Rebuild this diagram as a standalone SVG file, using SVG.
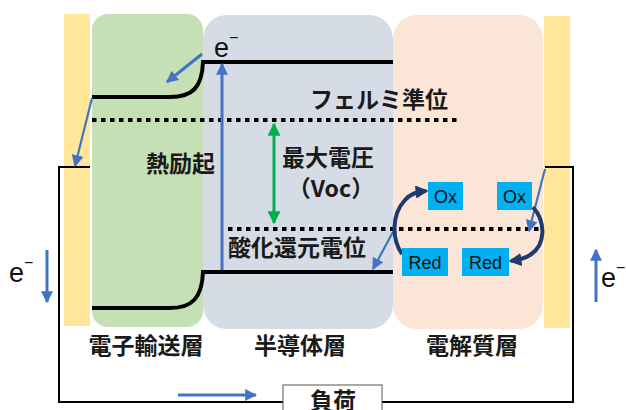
<svg xmlns="http://www.w3.org/2000/svg" width="626" height="410" viewBox="0 0 626 410">
<defs>
<style>
.jp{font-family:"Noto Sans CJK JP","Noto Sans",sans-serif;font-size:23px;font-weight:bold;fill:#1a1a1a}
.lat{font-family:"Liberation Sans",Arial,sans-serif;fill:#111}
.box{fill:#00B0F0}
.bt{font-family:"Liberation Sans",Arial,sans-serif;font-size:18px;fill:#111;text-anchor:middle}
.band{fill:none;stroke:#000;stroke-width:4}
.dot{fill:none;stroke:#000;stroke-width:4;stroke-dasharray:4.5 4.5}
.wire{fill:none;stroke:#000;stroke-width:2}
.blue{fill:none;stroke:#4472C4;stroke-width:3}
.bthin{fill:none;stroke:#4472C4;stroke-width:2.2}
.navy{fill:none;stroke:#1F3A6E;stroke-width:4}
</style>
<marker id="ab" viewBox="0 0 10 10" refX="9" refY="5" markerWidth="12" markerHeight="12" markerUnits="userSpaceOnUse" orient="auto"><path d="M0,0 L10,5 L0,10 Z" fill="#4472C4"/></marker>
<marker id="ag" viewBox="0 0 10 10" refX="9" refY="5" markerWidth="14" markerHeight="13" markerUnits="userSpaceOnUse" orient="auto-start-reverse"><path d="M0,0 L10,5 L0,10 Z" fill="#00B050"/></marker>
<marker id="an" viewBox="0 0 10 10" refX="8" refY="5" markerWidth="13" markerHeight="13" markerUnits="userSpaceOnUse" orient="auto"><path d="M0,0 L10,5 L0,10 Z" fill="#1F3A6E"/></marker>
</defs>

<g id="electrode-left"><rect x="64" y="14" width="26" height="312" fill="#FFE699"/></g>
<g id="etl"><rect x="92" y="14" width="111" height="313" rx="16" fill="#C5E0B4"/><text class="jp" x="146" y="354" text-anchor="middle">電子輸送層</text></g>
<g id="semiconductor"><rect x="203" y="15" width="190" height="314" rx="24" fill="#D6DCE5"/><text class="jp" x="300" y="354" text-anchor="middle">半導体層</text></g>
<g id="electrolyte"><rect x="393" y="15" width="150" height="314" rx="24" fill="#FBE5D6"/><text class="jp" x="472" y="354" text-anchor="middle">電解質層</text></g>
<g id="electrode-right"><rect x="544" y="16" width="26" height="312" fill="#FFE699"/></g>

<g id="connectors">
<path class="wire" d="M90,167 H59 V402 H283 M382,402 H573 V167 H545"/>
<path class="band" d="M92,97 H170 C192,97 202,88 203,62 H393"/>
<path class="band" d="M92,308 H170 C192,308 202,298 203,272 H393"/>
<path class="dot" d="M92,120 H458"/>
<path class="dot" d="M228,229 H543"/>
<path class="blue" d="M222,270 V64" marker-end="url(#ab)"/>
<path class="blue" d="M202,54 L167,82" marker-end="url(#ab)"/>
<path class="bthin" d="M92,98 L75,166" marker-end="url(#ab)"/>
<path class="bthin" d="M394,230 L373,269" marker-end="url(#ab)"/>
<path class="bthin" d="M545,169 L529,231" marker-end="url(#ab)"/>
<path class="blue" d="M47,250 V302" marker-end="url(#ab)"/>
<path class="blue" d="M596,302 V250" marker-end="url(#ab)"/>
<path class="blue" d="M178,395 H256" marker-end="url(#ab)"/>
<path fill="none" stroke="#00B050" stroke-width="3" d="M274,124 V223" marker-start="url(#ag)" marker-end="url(#ag)"/>
<path class="navy" d="M402,254 C392,240 391,215 405,200 C410,194 416,192 426,191" marker-end="url(#an)"/>
<path class="navy" d="M533,207 C546,222 546,245 530,255 C524,259 518,260 511,261" marker-end="url(#an)"/>
</g>

<g id="labels">
<text class="jp" x="310" y="108">フェルミ準位</text>
<text class="jp" x="146" y="172">熱励起</text>
<text class="jp" x="282" y="166">最大電圧</text>
<text class="jp" x="331" y="197" text-anchor="middle">（Voc）</text>
<text class="jp" x="228" y="256">酸化還元電位</text>
<text class="lat" x="214" y="57" font-size="27">e<tspan font-size="16" dy="-14">−</tspan></text>
<text class="lat" x="9" y="282" font-size="27">e<tspan font-size="16" dy="-14">−</tspan></text>
<text class="lat" x="601" y="287" font-size="27">e<tspan font-size="16" dy="-14">−</tspan></text>
</g>

<g id="ox1"><rect class="box" x="428" y="182" width="35" height="28"/><text class="bt" x="445.5" y="203">Ox</text></g>
<g id="ox2"><rect class="box" x="497" y="182" width="35" height="28"/><text class="bt" x="514.5" y="203">Ox</text></g>
<g id="red1"><rect class="box" x="402" y="248" width="46" height="28"/><text class="bt" x="425" y="269">Red</text></g>
<g id="red2"><rect class="box" x="462" y="248" width="47" height="28"/><text class="bt" x="485.5" y="269">Red</text></g>

<g id="load"><rect x="283" y="385" width="99" height="30" fill="#fff" stroke="#555" stroke-width="1"/><text class="jp" x="333" y="409" text-anchor="middle">負荷</text></g>
</svg>
